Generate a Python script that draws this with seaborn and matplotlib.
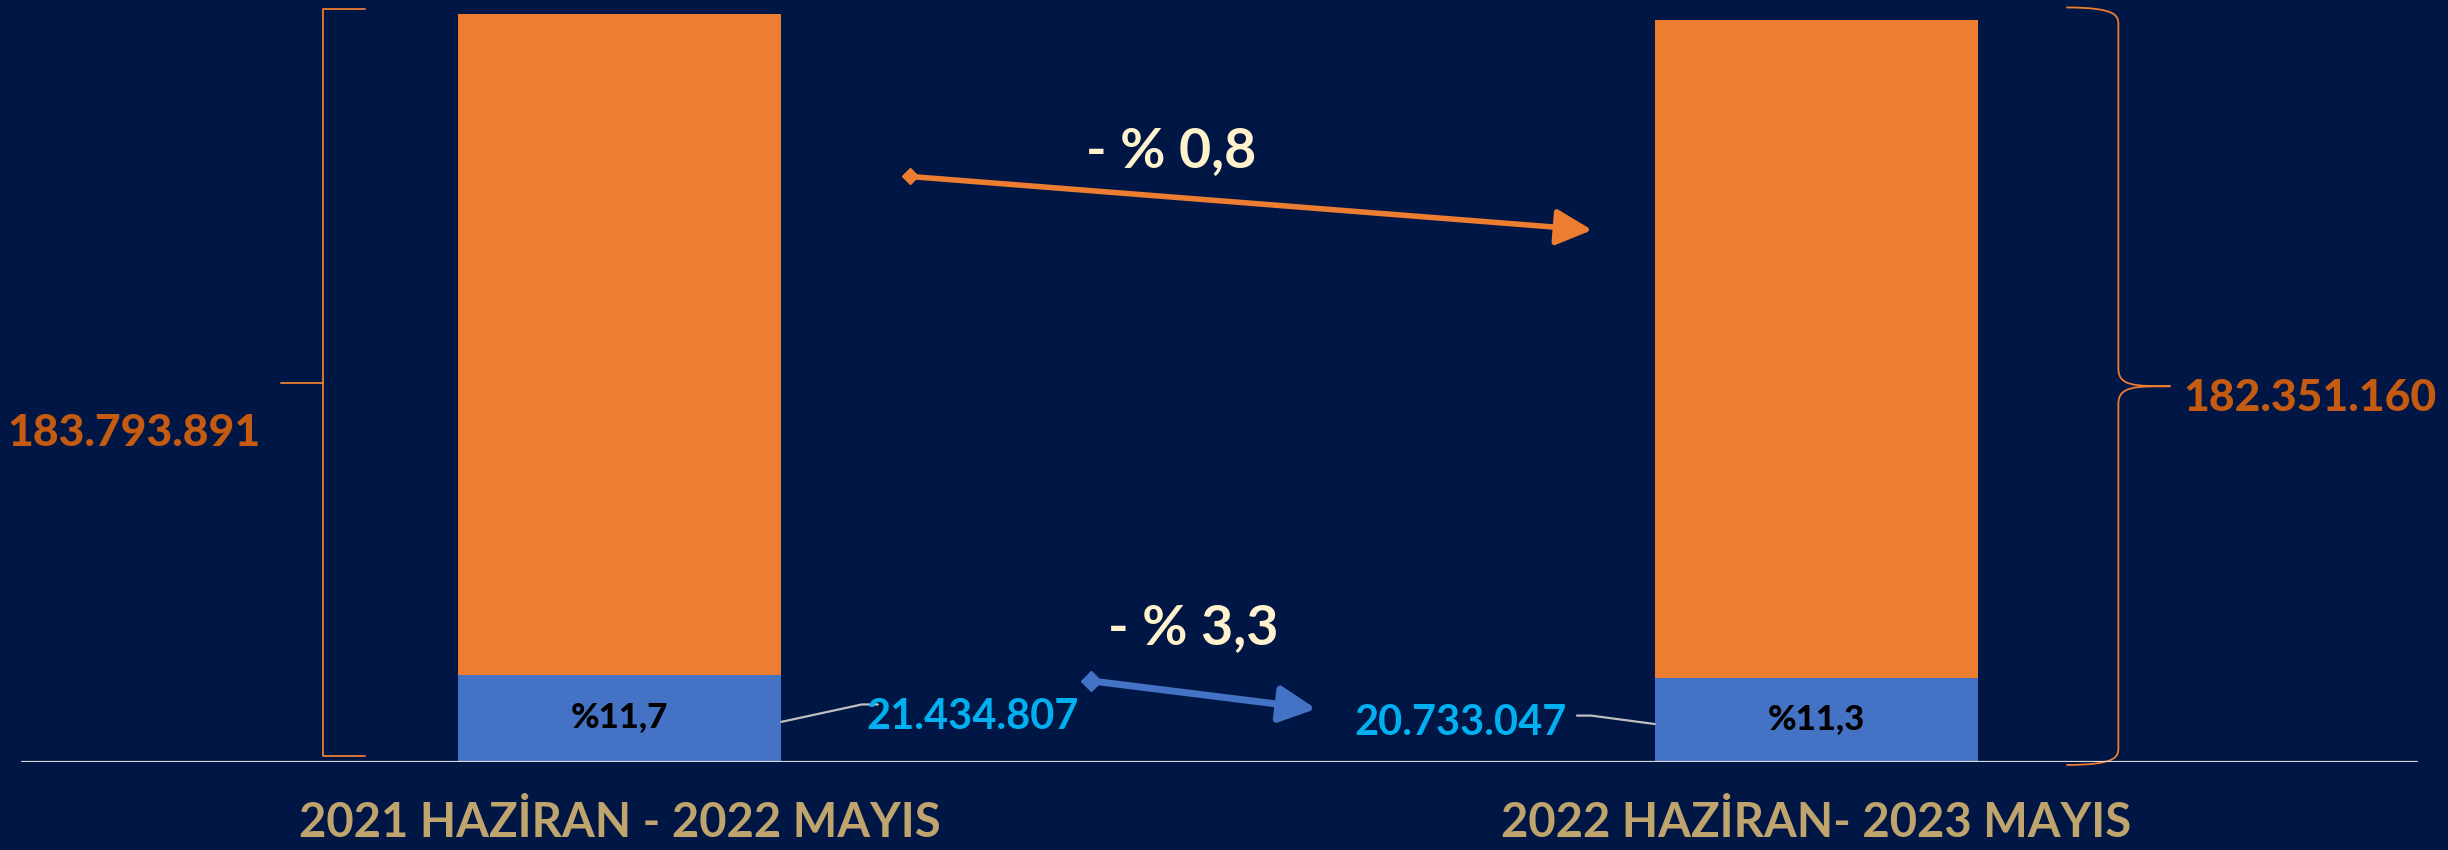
import matplotlib
matplotlib.use("Agg")
import matplotlib.pyplot as plt
import numpy as np
import pandas as pd
import seaborn as sns
from matplotlib.path import Path
from matplotlib.patches import PathPatch

# --- data ------------------------------------------------------------------
periods    = ["2021 HAZİRAN - 2022 MAYIS", "2022 HAZİRAN- 2023 MAYIS"]
totals     = [183793891, 182351160]
blue_vals  = [21434807, 20733047]
shares     = ["%11,7", "%11,3"]
total_chg  = "- % 0,8"
blue_chg   = "- % 3,3"

# --- colours ----------------------------------------------------------------
BG      = "#001644"
ORANGE  = "#ED7D31"
BLUE    = "#4472C4"
DK_OR   = "#C55A11"
CYAN    = "#00B0F0"
CREAM   = "#FFF2CC"
TAN     = "#BFA46E"
GRID    = "#D9D9D9"
FONT    = "Lato"


def tr(v: int) -> str:
    return f"{v:,}".replace(",", ".")


sns.set_theme(style="white")
plt.rcParams["font.family"] = [FONT, "DejaVu Sans"]

df = pd.DataFrame({"period": periods, "total": totals, "blue": blue_vals})

fig = plt.figure(figsize=(24.48, 8.5), dpi=100, facecolor=BG)
ax = fig.add_axes([0, 88 / 850, 1, 762 / 850])
ax.set_facecolor(BG)

bw = 0.27
sns.barplot(data=df, x="period", y="total", color=ORANGE, saturation=1,
            width=bw, ax=ax, linewidth=0)
sns.barplot(data=df, x="period", y="blue", color=BLUE, saturation=1,
            width=bw, ax=ax, linewidth=0)

ax.set_xlim(-0.518, 1.528)
ax.set_ylim(0, totals[0] * 1.019)
for s in ax.spines.values():
    s.set_visible(False)
ax.set(xlabel="", ylabel="", yticks=[])
ax.set_xticks([0, 1])
ax.set_xticklabels(periods, fontsize=34, fontweight="bold", color=TAN)
ax.tick_params(axis="x", length=0, pad=28)
ax.axhline(0, xmin=22 / 2448, xmax=2417 / 2448, color=GRID, lw=1.6)

# share labels inside the blue segments
for i, (b, s) in enumerate(zip(blue_vals, shares)):
    ax.text(i, b / 2, s, ha="center", va="center", fontsize=25,
            fontweight="black", color="black")

# blue value labels with connector lines
half = bw / 2
ax.text(0.2065, blue_vals[0] * 0.52, tr(blue_vals[0]), ha="left", va="center",
        fontsize=30, fontweight="bold", color=CYAN)
ax.plot([half, 0.2023, 0.2157],
        [blue_vals[0] * 0.46, blue_vals[0] * 0.66, blue_vals[0] * 0.66],
        color="#BFBFBF", lw=1.6)
ax.text(0.791, blue_vals[1] * 0.46, tr(blue_vals[1]), ha="right", va="center",
        fontsize=30, fontweight="bold", color=CYAN)
ax.plot([0.800, 0.812, 1 - half],
        [blue_vals[1] * 0.55, blue_vals[1] * 0.55, blue_vals[1] * 0.45],
        color="#BFBFBF", lw=1.6)

# left square bracket around first total
t0 = totals[0]
y_top, y_bot = t0 * 1.0067, t0 * 0.008
y_mid = (y_top + y_bot) / 2
ax.plot([-0.213, -0.248, -0.248, -0.213], [y_top, y_top, y_bot, y_bot],
        color=ORANGE, lw=1.3, clip_on=False)
ax.plot([-0.283, -0.248], [y_mid, y_mid], color=ORANGE, lw=1.3)
ax.text(-0.30, t0 * 0.44, tr(t0), ha="right", va="center", fontsize=32,
        fontweight="black", color=DK_OR)

# right curly brace around second total
t1 = totals[1]
bt, bb = t1 * 1.017, -t1 * 0.004
bm = (bt + bb) / 2
xe, xs, xt = 1.209, 1.2525, 1.296
r = t1 * 0.012
verts = [
    (xe, bt), (xs, bt), (xs, bt - r), (xs, bt - 2 * r),
    (xs, bm + 2 * r),
    (xs, bm), (xt - 0.03, bm), (xt, bm),
    (xt - 0.03, bm), (xs, bm), (xs, bm - 2 * r),
    (xs, bb + 2 * r),
    (xs, bb + r), (xs, bb), (xe, bb),
]
codes = [Path.MOVETO, Path.CURVE4, Path.CURVE4, Path.CURVE4,
         Path.LINETO,
         Path.CURVE4, Path.CURVE4, Path.CURVE4,
         Path.CURVE4, Path.CURVE4, Path.CURVE4,
         Path.LINETO,
         Path.CURVE4, Path.CURVE4, Path.CURVE4]
ax.add_patch(PathPatch(Path(verts, codes), fill=False, edgecolor=ORANGE,
                       lw=1.3, clip_on=False))
ax.text(1.307, t1 * 0.49, tr(t1), ha="left", va="center", fontsize=32,
        fontweight="black", color=DK_OR)

# change arrows
def change_arrow(start, end, color, lw, ms):
    ax.annotate("", xy=end, xytext=start,
                arrowprops=dict(arrowstyle="-|>,head_length=1.1,head_width=0.55",
                                color=color, lw=lw, shrinkA=0, shrinkB=0,
                                mutation_scale=20))
    ax.plot(*start, marker="D", ms=ms, color=color, mec=color)

change_arrow((0.2425, t0 * 0.783), (0.8127, t1 * 0.717), ORANGE, 4, 8)
change_arrow((0.3938, blue_vals[0] * 0.93), (0.582, blue_vals[1] * 0.63),
             BLUE, 5, 10)

ax.text(0.4607, t0 * 0.817, total_chg, ha="center", va="center", fontsize=40,
        fontweight="bold", color=CREAM)
ax.text(0.4791, blue_vals[0] * 1.535, blue_chg, ha="center", va="center",
        fontsize=40, fontweight="bold", color=CREAM)

fig.savefig("out.png", dpi=100, facecolor=BG)
